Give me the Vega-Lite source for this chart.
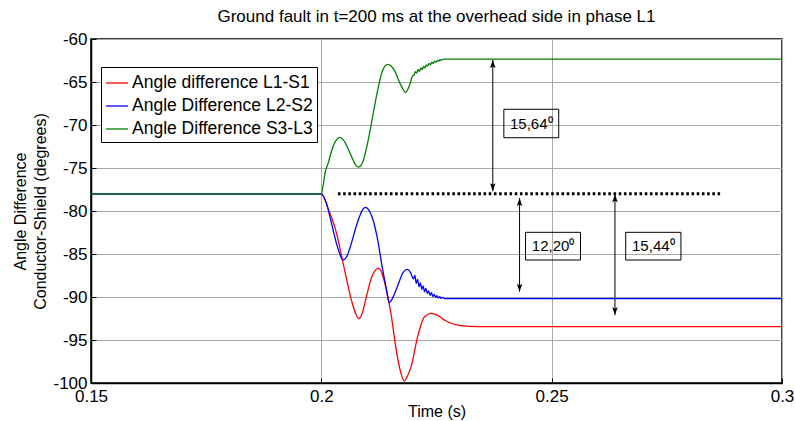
{
  "$schema": "https://vega.github.io/schema/vega-lite/v6.json",
  "width": 691,
  "height": 344,
  "autosize": "none",
  "padding": {"left": 91, "top": 39, "right": 13, "bottom": 38},
  "background": "white",
  "title": {"text": "Ground fault in t=200 ms at the overhead side in phase L1", "font": "Liberation Sans", "fontSize": 17, "fontWeight": "normal", "color": "black", "offset": 4, "anchor": "middle"},
  "config": {
    "locale": {"number": {"decimal": ".", "thousands": ",", "grouping": [3], "currency": ["$", ""], "minus": "-"}},
    "view": {"stroke": "black", "strokeWidth": 1.5},
    "font": "Liberation Sans"
  },
  "datasets": {
    "curves": [
      {"t": 0.15, "v": -78, "s": "Angle difference L1-S1"},
      {"t": 0.2, "v": -78, "s": "Angle difference L1-S1"},
      {"t": 0.2016, "v": -79.9, "s": "Angle difference L1-S1"},
      {"t": 0.2031, "v": -82.2, "s": "Angle difference L1-S1"},
      {"t": 0.2049, "v": -86.5, "s": "Angle difference L1-S1"},
      {"t": 0.2067, "v": -90.7, "s": "Angle difference L1-S1"},
      {"t": 0.2075, "v": -92.0, "s": "Angle difference L1-S1"},
      {"t": 0.2081, "v": -92.5, "s": "Angle difference L1-S1"},
      {"t": 0.2088, "v": -92.0, "s": "Angle difference L1-S1"},
      {"t": 0.2096, "v": -90.35, "s": "Angle difference L1-S1"},
      {"t": 0.211, "v": -87.6, "s": "Angle difference L1-S1"},
      {"t": 0.2118, "v": -86.85, "s": "Angle difference L1-S1"},
      {"t": 0.2124, "v": -86.66, "s": "Angle difference L1-S1"},
      {"t": 0.2130, "v": -87.0, "s": "Angle difference L1-S1"},
      {"t": 0.2136, "v": -88.02, "s": "Angle difference L1-S1"},
      {"t": 0.2151, "v": -91.9, "s": "Angle difference L1-S1"},
      {"t": 0.2165, "v": -96.94, "s": "Angle difference L1-S1"},
      {"t": 0.2173, "v": -98.9, "s": "Angle difference L1-S1"},
      {"t": 0.218, "v": -99.77, "s": "Angle difference L1-S1"},
      {"t": 0.2186, "v": -99.3, "s": "Angle difference L1-S1"},
      {"t": 0.2195, "v": -98.1, "s": "Angle difference L1-S1"},
      {"t": 0.2209, "v": -94.6, "s": "Angle difference L1-S1"},
      {"t": 0.2224, "v": -92.3, "s": "Angle difference L1-S1"},
      {"t": 0.2238, "v": -91.9, "s": "Angle difference L1-S1"},
      {"t": 0.2252, "v": -92.1, "s": "Angle difference L1-S1"},
      {"t": 0.2267, "v": -92.67, "s": "Angle difference L1-S1"},
      {"t": 0.2303, "v": -93.33, "s": "Angle difference L1-S1"},
      {"t": 0.234, "v": -93.45, "s": "Angle difference L1-S1"},
      {"t": 0.3, "v": -93.44, "s": "Angle difference L1-S1"},

      {"t": 0.15, "v": -78, "s": "Angle Difference L2-S2"},
      {"t": 0.2, "v": -78, "s": "Angle Difference L2-S2"},
      {"t": 0.2011, "v": -79.1, "s": "Angle Difference L2-S2"},
      {"t": 0.2022, "v": -81.4, "s": "Angle Difference L2-S2"},
      {"t": 0.2033, "v": -83.8, "s": "Angle Difference L2-S2"},
      {"t": 0.204, "v": -85.0, "s": "Angle Difference L2-S2"},
      {"t": 0.2047, "v": -85.7, "s": "Angle Difference L2-S2"},
      {"t": 0.2056, "v": -85.2, "s": "Angle Difference L2-S2"},
      {"t": 0.2063, "v": -84.15, "s": "Angle Difference L2-S2"},
      {"t": 0.2078, "v": -81.4, "s": "Angle Difference L2-S2"},
      {"t": 0.209, "v": -79.8, "s": "Angle Difference L2-S2"},
      {"t": 0.2096, "v": -79.57, "s": "Angle Difference L2-S2"},
      {"t": 0.2102, "v": -79.8, "s": "Angle Difference L2-S2"},
      {"t": 0.211, "v": -80.66, "s": "Angle Difference L2-S2"},
      {"t": 0.2121, "v": -82.99, "s": "Angle Difference L2-S2"},
      {"t": 0.2132, "v": -86.47, "s": "Angle Difference L2-S2"},
      {"t": 0.2142, "v": -89.3, "s": "Angle Difference L2-S2"},
      {"t": 0.2147, "v": -90.66, "s": "Angle Difference L2-S2"},
      {"t": 0.2152, "v": -90.4, "s": "Angle Difference L2-S2"},
      {"t": 0.2165, "v": -88.8, "s": "Angle Difference L2-S2"},
      {"t": 0.2178, "v": -87.1, "s": "Angle Difference L2-S2"},
      {"t": 0.2187, "v": -86.78, "s": "Angle Difference L2-S2"},
      {"t": 0.2194, "v": -87.2, "s": "Angle Difference L2-S2"},
      {"t": 0.22, "v": -87.9, "s": "Angle Difference L2-S2"},
      {"t": 0.2203, "v": -87.5, "s": "Angle Difference L2-S2"},
      {"t": 0.2206, "v": -88.4, "s": "Angle Difference L2-S2"},
      {"t": 0.2209, "v": -87.95, "s": "Angle Difference L2-S2"},
      {"t": 0.2212, "v": -88.8, "s": "Angle Difference L2-S2"},
      {"t": 0.2215, "v": -88.35, "s": "Angle Difference L2-S2"},
      {"t": 0.2218, "v": -89.1, "s": "Angle Difference L2-S2"},
      {"t": 0.2221, "v": -88.7, "s": "Angle Difference L2-S2"},
      {"t": 0.2224, "v": -89.4, "s": "Angle Difference L2-S2"},
      {"t": 0.2227, "v": -89.0, "s": "Angle Difference L2-S2"},
      {"t": 0.223, "v": -89.6, "s": "Angle Difference L2-S2"},
      {"t": 0.2233, "v": -89.3, "s": "Angle Difference L2-S2"},
      {"t": 0.2236, "v": -89.8, "s": "Angle Difference L2-S2"},
      {"t": 0.2239, "v": -89.5, "s": "Angle Difference L2-S2"},
      {"t": 0.2242, "v": -89.95, "s": "Angle Difference L2-S2"},
      {"t": 0.2245, "v": -89.7, "s": "Angle Difference L2-S2"},
      {"t": 0.2248, "v": -90.05, "s": "Angle Difference L2-S2"},
      {"t": 0.2251, "v": -89.85, "s": "Angle Difference L2-S2"},
      {"t": 0.2254, "v": -90.12, "s": "Angle Difference L2-S2"},
      {"t": 0.2257, "v": -89.95, "s": "Angle Difference L2-S2"},
      {"t": 0.226, "v": -90.15, "s": "Angle Difference L2-S2"},
      {"t": 0.2263, "v": -90.05, "s": "Angle Difference L2-S2"},
      {"t": 0.2268, "v": -90.2, "s": "Angle Difference L2-S2"},
      {"t": 0.3, "v": -90.2, "s": "Angle Difference L2-S2"},

      {"t": 0.15, "v": -78, "s": "Angle Difference S3-L3"},
      {"t": 0.2, "v": -78, "s": "Angle Difference S3-L3"},
      {"t": 0.2004, "v": -77.0, "s": "Angle Difference S3-L3"},
      {"t": 0.2008, "v": -75.6, "s": "Angle Difference S3-L3"},
      {"t": 0.2015, "v": -74.4, "s": "Angle Difference S3-L3"},
      {"t": 0.2023, "v": -72.9, "s": "Angle Difference S3-L3"},
      {"t": 0.2032, "v": -71.8, "s": "Angle Difference S3-L3"},
      {"t": 0.204, "v": -71.43, "s": "Angle Difference S3-L3"},
      {"t": 0.205, "v": -71.9, "s": "Angle Difference S3-L3"},
      {"t": 0.2065, "v": -73.6, "s": "Angle Difference S3-L3"},
      {"t": 0.2074, "v": -74.6, "s": "Angle Difference S3-L3"},
      {"t": 0.208, "v": -74.9, "s": "Angle Difference S3-L3"},
      {"t": 0.209, "v": -74.3, "s": "Angle Difference S3-L3"},
      {"t": 0.2098, "v": -72.7, "s": "Angle Difference S3-L3"},
      {"t": 0.2106, "v": -70.6, "s": "Angle Difference S3-L3"},
      {"t": 0.2121, "v": -66.3, "s": "Angle Difference S3-L3"},
      {"t": 0.2132, "v": -63.8, "s": "Angle Difference S3-L3"},
      {"t": 0.2139, "v": -63.1, "s": "Angle Difference S3-L3"},
      {"t": 0.2145, "v": -62.94, "s": "Angle Difference S3-L3"},
      {"t": 0.2151, "v": -63.1, "s": "Angle Difference S3-L3"},
      {"t": 0.2158, "v": -63.6, "s": "Angle Difference S3-L3"},
      {"t": 0.2173, "v": -65.4, "s": "Angle Difference S3-L3"},
      {"t": 0.2183, "v": -66.2, "s": "Angle Difference S3-L3"},
      {"t": 0.2192, "v": -65.3, "s": "Angle Difference S3-L3"},
      {"t": 0.2198, "v": -64.3, "s": "Angle Difference S3-L3"},
      {"t": 0.2201, "v": -64.2, "s": "Angle Difference S3-L3"},
      {"t": 0.2204, "v": -63.8, "s": "Angle Difference S3-L3"},
      {"t": 0.2207, "v": -63.95, "s": "Angle Difference S3-L3"},
      {"t": 0.221, "v": -63.55, "s": "Angle Difference S3-L3"},
      {"t": 0.2213, "v": -63.75, "s": "Angle Difference S3-L3"},
      {"t": 0.2216, "v": -63.35, "s": "Angle Difference S3-L3"},
      {"t": 0.2219, "v": -63.55, "s": "Angle Difference S3-L3"},
      {"t": 0.2222, "v": -63.2, "s": "Angle Difference S3-L3"},
      {"t": 0.2225, "v": -63.35, "s": "Angle Difference S3-L3"},
      {"t": 0.2228, "v": -63.0, "s": "Angle Difference S3-L3"},
      {"t": 0.2231, "v": -63.15, "s": "Angle Difference S3-L3"},
      {"t": 0.2234, "v": -62.85, "s": "Angle Difference S3-L3"},
      {"t": 0.2237, "v": -63.0, "s": "Angle Difference S3-L3"},
      {"t": 0.224, "v": -62.7, "s": "Angle Difference S3-L3"},
      {"t": 0.2243, "v": -62.85, "s": "Angle Difference S3-L3"},
      {"t": 0.2246, "v": -62.58, "s": "Angle Difference S3-L3"},
      {"t": 0.2249, "v": -62.7, "s": "Angle Difference S3-L3"},
      {"t": 0.2252, "v": -62.48, "s": "Angle Difference S3-L3"},
      {"t": 0.2255, "v": -62.58, "s": "Angle Difference S3-L3"},
      {"t": 0.2258, "v": -62.4, "s": "Angle Difference S3-L3"},
      {"t": 0.2261, "v": -62.48, "s": "Angle Difference S3-L3"},
      {"t": 0.2265, "v": -62.35, "s": "Angle Difference S3-L3"},
      {"t": 0.229, "v": -62.35, "s": "Angle Difference S3-L3"},
      {"t": 0.3, "v": -62.35, "s": "Angle Difference S3-L3"}
    ]
  },
  "layer": [
    {
      "data": {"name": "curves"},
      "mark": {"type": "line", "strokeWidth": 1.3, "interpolate": "monotone", "clip": true},
      "encoding": {
        "x": {"field": "t", "type": "quantitative",
          "scale": {"domain": [0.15, 0.3], "nice": false, "zero": false},
          "axis": {"values": [0.15, 0.2, 0.25, 0.3], "format": "~g", "title": "Time (s)",
            "labelFlush": false, "labelFont": "Liberation Sans", "labelFontSize": 17, "labelColor": "black",
            "titleFont": "Liberation Sans", "titleFontSize": 16, "titleFontWeight": "normal", "titleColor": "black", "titlePadding": -1,
            "grid": true, "gridColor": "#a8a8a8", "gridWidth": 1,
            "domainColor": "black", "domainWidth": 1.5, "tickColor": "black", "tickSize": -5, "labelPadding": 10}},
        "y": {"field": "v", "type": "quantitative",
          "scale": {"domain": [-100, -60], "nice": false, "zero": false},
          "axis": {"values": [-100, -95, -90, -85, -80, -75, -70, -65, -60], "title": ["Angle Difference", "Conductor-Shield (degrees)"],
            "labelFont": "Liberation Sans", "labelFontSize": 17, "labelColor": "black",
            "titleFont": "Liberation Sans", "titleFontSize": 16, "titleFontWeight": "normal", "titleColor": "black", "titlePadding": 4, "titleLineHeight": 20,
            "grid": true, "gridColor": "#a8a8a8", "gridWidth": 1,
            "domainColor": "black", "domainWidth": 1.5, "tickColor": "black", "tickSize": -5, "labelPadding": 9}},
        "color": {"field": "s", "type": "nominal",
          "scale": {"domain": ["Angle difference L1-S1", "Angle Difference L2-S2", "Angle Difference S3-L3"], "range": ["#ff0000", "#0000ff", "#008000"]},
          "legend": {"title": null, "orient": "none", "legendX": 10, "legendY": 28,
            "fillColor": "white", "strokeColor": "black", "padding": 4,
            "symbolType": "stroke", "symbolSize": 484, "symbolStrokeWidth": 1.3,
            "labelFont": "Liberation Sans", "labelFontSize": 17.5, "labelColor": "black", "labelOffset": 3, "labelLimit": 0,
            "rowPadding": 2}}
      }
    },
    {
      "data": {"values": [{"t1": 0.2036, "t2": 0.2866, "v": -78}]},
      "mark": {"type": "rule", "color": "black", "strokeWidth": 3, "strokeDash": [2.6, 2.6]},
      "encoding": {
        "x": {"field": "t1", "type": "quantitative"},
        "x2": {"field": "t2"},
        "y": {"field": "v", "type": "quantitative"}
      }
    },
    {
      "data": {"values": [
        {"t": 0.23722, "a": -62.44, "b": -77.7},
        {"t": 0.24303, "a": -78.5, "b": -89.4},
        {"t": 0.26374, "a": -78.06, "b": -92.1}
      ]},
      "mark": {"type": "rule", "color": "black", "strokeWidth": 1},
      "encoding": {
        "x": {"field": "t", "type": "quantitative"},
        "y": {"field": "a", "type": "quantitative"},
        "y2": {"field": "b"}
      }
    },
    {
      "data": {"values": [
        {"t": 0.23722, "v": -62.44, "d": "up"},
        {"t": 0.23722, "v": -77.7, "d": "down"},
        {"t": 0.24303, "v": -78.5, "d": "up"},
        {"t": 0.24303, "v": -89.4, "d": "down"},
        {"t": 0.26374, "v": -78.06, "d": "up"},
        {"t": 0.26374, "v": -92.1, "d": "down"}
      ]},
      "mark": {"type": "point", "filled": true, "color": "black", "opacity": 1, "size": 256},
      "encoding": {
        "x": {"field": "t", "type": "quantitative"},
        "y": {"field": "v", "type": "quantitative"},
        "shape": {"field": "d", "type": "nominal", "legend": null,
          "scale": {"domain": ["up", "down"], "range": ["M0,0L0.34,1L0,0.8L-0.34,1Z", "M0,0L0.34,-1L0,-0.8L-0.34,-1Z"]}}
      }
    },
    {
      "data": {"values": [
        {"x1": 0.23962, "x2": 0.25153, "y1": -68.17, "y2": -71.48},
        {"x1": 0.24433, "x2": 0.25626, "y1": -82.48, "y2": -85.7},
        {"x1": 0.26607, "x2": 0.27806, "y1": -82.48, "y2": -85.7}
      ]},
      "mark": {"type": "rect", "fill": null, "fillOpacity": 0, "stroke": "black", "strokeWidth": 1},
      "encoding": {
        "x": {"field": "x1", "type": "quantitative"},
        "x2": {"field": "x2"},
        "y": {"field": "y1", "type": "quantitative"},
        "y2": {"field": "y2"}
      }
    },
    {
      "data": {"values": [
        {"t": 0.24557, "v": -69.83, "label": "15,64⁰"},
        {"t": 0.2503, "v": -84.09, "label": "12,20⁰"},
        {"t": 0.27206, "v": -84.09, "label": "15,44⁰"}
      ]},
      "mark": {"type": "text", "font": "Liberation Sans", "fontSize": 15, "color": "black", "align": "center", "baseline": "middle"},
      "encoding": {
        "x": {"field": "t", "type": "quantitative"},
        "y": {"field": "v", "type": "quantitative"},
        "text": {"field": "label"}
      }
    }
  ]
}
